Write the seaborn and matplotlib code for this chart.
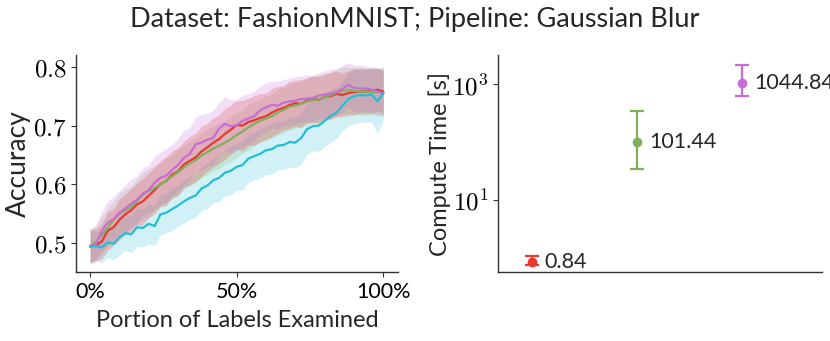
import matplotlib
matplotlib.use("Agg")
import matplotlib.pyplot as plt
import seaborn as sns
import pandas as pd
import numpy as np
from matplotlib.ticker import FixedLocator, FuncFormatter

# portion of labels examined (%)
portion = list(range(0, 101, 2))

# mean accuracy curves
acc_red = [0.495, 0.497, 0.503, 0.521, 0.527, 0.540, 0.549, 0.556, 0.566, 0.571,
           0.581, 0.590, 0.601, 0.606, 0.617, 0.622, 0.634, 0.640, 0.646, 0.656,
           0.663, 0.671, 0.677, 0.686, 0.693, 0.701, 0.700, 0.706, 0.709, 0.713,
           0.716, 0.722, 0.727, 0.730, 0.735, 0.738, 0.737, 0.743, 0.745, 0.744,
           0.749, 0.750, 0.754, 0.752, 0.755, 0.757, 0.758, 0.758, 0.759, 0.761,
           0.758]
acc_green = [0.495, 0.502, 0.514, 0.526, 0.540, 0.550, 0.556, 0.561, 0.572, 0.583,
             0.589, 0.594, 0.600, 0.607, 0.614, 0.621, 0.629, 0.636, 0.641, 0.649,
             0.655, 0.661, 0.666, 0.671, 0.677, 0.684, 0.690, 0.697, 0.703, 0.708,
             0.712, 0.716, 0.722, 0.727, 0.732, 0.734, 0.737, 0.741, 0.743, 0.745,
             0.748, 0.752, 0.756, 0.759, 0.760, 0.759, 0.758, 0.758, 0.757, 0.757,
             0.755]
acc_magenta = [0.494, 0.499, 0.521, 0.535, 0.541, 0.552, 0.559, 0.567, 0.574, 0.584,
               0.590, 0.603, 0.611, 0.615, 0.625, 0.633, 0.645, 0.652, 0.668, 0.671,
               0.676, 0.679, 0.695, 0.703, 0.699, 0.701, 0.708, 0.712, 0.716, 0.726,
               0.731, 0.735, 0.734, 0.739, 0.741, 0.742, 0.745, 0.746, 0.747, 0.751,
               0.753, 0.755, 0.757, 0.762, 0.769, 0.764, 0.763, 0.763, 0.761, 0.758,
               0.755]
acc_cyan = [0.494, 0.495, 0.493, 0.501, 0.499, 0.510, 0.517, 0.515, 0.527, 0.526,
            0.533, 0.529, 0.549, 0.552, 0.558, 0.564, 0.571, 0.577, 0.581, 0.593,
            0.598, 0.607, 0.611, 0.620, 0.623, 0.630, 0.633, 0.644, 0.648, 0.652,
            0.658, 0.660, 0.666, 0.667, 0.672, 0.671, 0.679, 0.694, 0.699, 0.700,
            0.708, 0.716, 0.722, 0.733, 0.745, 0.750, 0.752, 0.751, 0.753, 0.741,
            0.755]

# spread (std) around each curve
sd_red = [0.028, 0.027, 0.030, 0.033, 0.031, 0.035, 0.034, 0.037, 0.036, 0.039,
          0.038, 0.040, 0.039, 0.042, 0.040, 0.041, 0.039, 0.042, 0.041, 0.043,
          0.040, 0.042, 0.041, 0.043, 0.042, 0.041, 0.043, 0.040, 0.042, 0.041,
          0.039, 0.041, 0.040, 0.038, 0.040, 0.039, 0.041, 0.038, 0.040, 0.039,
          0.038, 0.040, 0.039, 0.037, 0.038, 0.039, 0.037, 0.038, 0.038, 0.037,
          0.038]
sd_green = [0.029, 0.028, 0.031, 0.033, 0.032, 0.034, 0.036, 0.035, 0.037, 0.036,
            0.038, 0.037, 0.036, 0.038, 0.037, 0.039, 0.038, 0.036, 0.038, 0.037,
            0.039, 0.038, 0.040, 0.037, 0.039, 0.038, 0.037, 0.039, 0.038, 0.036,
            0.038, 0.037, 0.039, 0.038, 0.040, 0.039, 0.038, 0.040, 0.039, 0.041,
            0.040, 0.039, 0.041, 0.040, 0.039, 0.040, 0.041, 0.040, 0.039, 0.040,
            0.040]
sd_magenta = [0.030, 0.031, 0.034, 0.036, 0.038, 0.037, 0.040, 0.042, 0.041, 0.044,
              0.043, 0.045, 0.044, 0.046, 0.043, 0.045, 0.047, 0.044, 0.046, 0.048,
              0.045, 0.047, 0.044, 0.046, 0.045, 0.043, 0.044, 0.042, 0.043, 0.041,
              0.042, 0.040, 0.041, 0.039, 0.040, 0.041, 0.039, 0.040, 0.038, 0.039,
              0.040, 0.041, 0.039, 0.040, 0.038, 0.039, 0.040, 0.038, 0.039, 0.040,
              0.038]
sd_cyan = [0.026, 0.024, 0.027, 0.026, 0.028, 0.030, 0.029, 0.031, 0.033, 0.032,
           0.034, 0.033, 0.035, 0.034, 0.036, 0.035, 0.037, 0.036, 0.038, 0.037,
           0.039, 0.038, 0.040, 0.039, 0.041, 0.040, 0.042, 0.041, 0.040, 0.042,
           0.041, 0.043, 0.042, 0.041, 0.043, 0.042, 0.044, 0.043, 0.042, 0.044,
           0.043, 0.045, 0.044, 0.043, 0.045, 0.047, 0.046, 0.045, 0.046, 0.055,
           0.046]

# compute time panel
time_mean = [0.84, 101.44, 1044.84]
time_low = [0.75, 35.0, 635.0]
time_high = [1.07, 345.0, 2150.0]

colors = {"red": "#e63a2e", "green": "#80b05c", "magenta": "#c86dd7", "cyan": "#22bdd6"}
band_alpha = {"cyan": 0.2, "green": 0.2, "red": 0.25, "magenta": 0.22}

sns.set_style("ticks")
plt.rcParams["font.family"] = ["Lato", "DejaVu Sans"]
plt.rcParams["mathtext.fontset"] = "cm"

fig = plt.figure(figsize=(8.3, 3.41), dpi=100)
ax1 = fig.add_axes([0.0916, 0.2023, 0.3879, 0.6364])
ax2 = fig.add_axes([0.600, 0.2023, 0.3904, 0.6364])

curves = [("red", acc_red, sd_red), ("green", acc_green, sd_green),
          ("magenta", acc_magenta, sd_magenta), ("cyan", acc_cyan, sd_cyan)]

rows = []
for name, acc, sd in curves:
    for p, a in zip(portion, acc):
        rows.append({"portion": p, "acc": a, "method": name})
df = pd.DataFrame(rows)

# bands: cyan underneath, then the others
for name, acc, sd in [curves[3], curves[1], curves[0], curves[2]]:
    a = np.array(acc)
    s = np.array(sd)
    ax1.fill_between(portion, a - s, a + s, color=colors[name],
                     alpha=band_alpha[name], lw=0)

sns.lineplot(data=df, x="portion", y="acc", hue="method", palette=colors,
             ax=ax1, lw=1.6, legend=False)

ax1.set_xlim(-4.8, 105)
ax1.set_ylim(0.451, 0.82)
ax1.xaxis.set_major_locator(FixedLocator([0, 50, 100]))
ax1.set_xticklabels(["0%", "50%", "100%"], fontsize=15.5)
ax1.yaxis.set_major_locator(FixedLocator([0.5, 0.6, 0.7, 0.8]))
ax1.yaxis.set_major_formatter(FuncFormatter(lambda v, p: r"$%.1f$" % v))
ax1.tick_params(axis="y", labelsize=18)
ax1.set_xlabel("Portion of Labels Examined", fontsize=17, labelpad=6)
ax1.set_ylabel("Accuracy", fontsize=19, labelpad=1)

# compute time
names = ["red", "green", "magenta"]
for i, n in enumerate(names):
    yerr = [[time_mean[i] - time_low[i]], [time_high[i] - time_mean[i]]]
    ax2.errorbar([i], [time_mean[i]], yerr=yerr, fmt="o", color=colors[n],
                 ms=6, elinewidth=1.6, capsize=5, capthick=1.6)
    ax2.annotate("%.2f" % time_mean[i], (i, time_mean[i]), xytext=(9, 0),
                 textcoords="offset points", va="center", ha="left", fontsize=15.5,
                 annotation_clip=False)

ax2.set_yscale("log")
ax2.set_xlim(-0.32, 2.76)
ax2.set_ylim(0.57, 3210)
ax2.set_xticks([])
ax2.yaxis.set_major_locator(FixedLocator([10, 1000]))
ax2.yaxis.set_minor_locator(FixedLocator([]))
ax2.yaxis.set_major_formatter(FuncFormatter(lambda v, p: r"$10^{%d}$" % round(np.log10(v))))
ax2.tick_params(axis="y", labelsize=18)
ax2.set_ylabel("Compute Time [s]", fontsize=17, labelpad=1)

for ax in (ax1, ax2):
    sns.despine(ax=ax)
    for sp in ("left", "bottom"):
        ax.spines[sp].set_color("#333333")
        ax.spines[sp].set_linewidth(1.0)
    ax.tick_params(colors="#333333", labelcolor="black")

fig.suptitle("Dataset: FashionMNIST; Pipeline: Gaussian Blur", fontsize=19.5, y=0.98)

fig.savefig("out.png", dpi=100)
